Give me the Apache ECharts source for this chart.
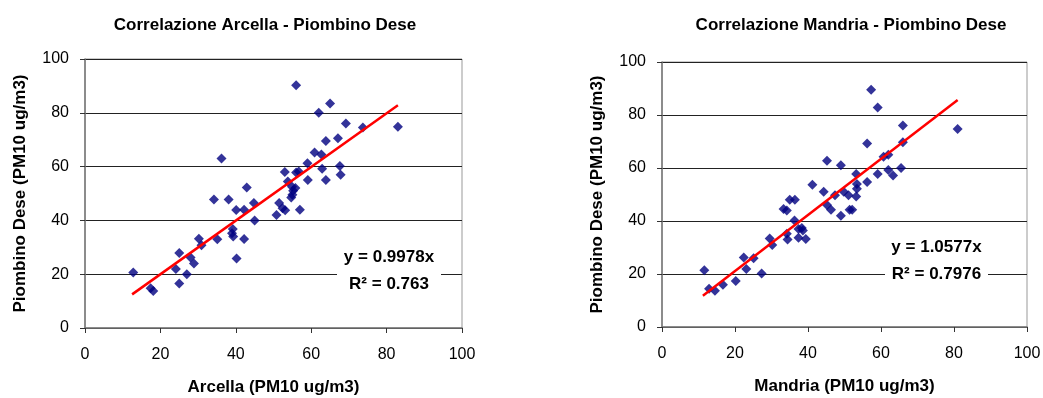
<!DOCTYPE html>
<html>
<head>
<meta charset="utf-8">
<script src="https://cdn.jsdelivr.net/npm/echarts@6/dist/echarts.min.js"></script>
<style>
html,body{margin:0;padding:0;background:#fff;}
#c{width:1043px;height:398px;}
</style>
</head>
<body>
<div id="c"></div>
<script>
// Left chart: Arcella (x) vs Piombino Dese (y)
const arcellaX = [12.8,17.4,18.1,24.1,25.0,25.0,27.0,28.0,28.9,30.2,30.9,34.2,35.1,36.2,38.1,39.2,39.0,39.3,40.1,40.2,42.2,42.2,42.9,44.8,45.0,50.8,51.5,52.4,53.1,53.0,53.8,54.9,55.2,55.0,54.7,55.8,56.0,56.7,56.0,57.0,59.0,59.1,60.9,62.7,62.0,62.9,63.9,63.9,65.0,67.1,67.6,67.8,69.2,73.7,83.0];
const arcellaPD = [20.6,14.8,13.8,21.9,27.9,16.5,20.0,26.2,24.0,33.2,30.8,47.8,33.0,63.0,47.8,36.8,35.2,34.0,43.9,25.8,44.0,33.1,52.2,46.5,40.0,42.0,46.5,44.5,43.8,58.0,54.5,52.5,51.0,49.5,48.5,52.0,57.8,58.2,90.2,44.0,61.2,55.0,65.2,64.5,80.0,59.2,55.0,69.5,83.5,70.5,60.2,57.0,76.0,74.5,74.8];
// Right chart: Mandria (x) vs Piombino Dese (y)
const mandriaX = [11.6,12.9,14.5,16.7,20.2,22.4,23.1,25.1,27.3,29.5,30.2,33.3,34.2,35.0,36.4,34.2,34.4,36.3,37.4,38.3,38.6,37.4,39.4,41.2,44.3,45.2,45.2,46.3,47.4,49.0,49.0,49.8,51.1,51.4,52.1,53.2,53.4,53.4,53.2,56.2,56.2,57.3,59.1,59.1,60.7,62.0,62.0,63.3,65.5,66.0,66.0,81.0];
const mandriaPD = [21.4,14.4,13.7,15.9,17.4,26.2,21.9,25.9,20.2,33.4,30.9,44.5,44.0,48.0,48.0,35.2,33.0,40.2,37.0,37.4,36.4,33.7,33.2,53.7,51.0,62.7,46.0,44.2,49.7,61.0,42.0,51.0,49.7,44.2,44.2,57.7,54.0,52.2,49.2,69.2,54.7,89.5,82.8,57.7,64.2,65.0,59.2,57.2,60.0,69.7,76.0,74.7];
// Trend line end points
const trendArcellaX = [12.5, 83.0];
const trendArcellaY = [12.5, 82.8];
const trendMandriaX = [11.2, 81.0];
const trendMandriaY = [11.8, 85.7];
// Ticks
const tickMin = 0, tickMax = 100, tickStep = 20;
const titles = ['Correlazione Arcella - Piombino Dese', 'Correlazione Mandria - Piombino Dese'];
const xNames = ['Arcella (PM10 ug/m3)', 'Mandria (PM10 ug/m3)'];
const yName = 'Piombino Dese (PM10 ug/m3)';
const eqTexts = [['y = 0.9978x', 'R\u00B2 = 0.763'], ['y = 1.0577x', 'R\u00B2 = 0.7976']];

const zip = (a, b) => a.map((v, i) => [v, b[i]]);
const sans = '"Liberation Sans", Arial, sans-serif';

const grids = [
  {left: 85, top: 59, width: 377, height: 269},
  {left: 662, top: 62, width: 365, height: 265}
];

function xAxis(i) {
  return {
    gridIndex: i, type: 'value', min: tickMin, max: tickMax, interval: tickStep,
    name: xNames[i], nameLocation: 'middle', nameGap: 51,
    nameTextStyle: {fontFamily: sans, fontWeight: 'bold', fontSize: 17, color: '#000'},
    axisLine: {show: true, lineStyle: {color: '#777', width: 1.5}},
    axisTick: {show: true, inside: false, length: 5, lineStyle: {color: '#333'}},
    axisLabel: {fontFamily: sans, fontSize: 16, color: '#000', margin: 19},
    splitLine: {show: false}
  };
}
function yAxis(i) {
  return {
    gridIndex: i, type: 'value', min: tickMin, max: tickMax, interval: tickStep,
    name: yName, nameLocation: 'middle', nameGap: 56,
    nameTextStyle: {fontFamily: sans, fontWeight: 'bold', fontSize: 17, color: '#000'},
    axisLine: {show: true, lineStyle: {color: '#777', width: 1.5}},
    axisTick: {show: true, inside: false, length: 5, lineStyle: {color: '#333'}},
    axisLabel: {fontFamily: sans, fontSize: 16, color: '#000', margin: 16},
    splitLine: {show: true, lineStyle: {color: '#222', width: 1}}
  };
}

const eqPos = [[389, 257, 284, 337, 441], [937, 247, 274, 885, 988]];
const graphics = [];
eqTexts.forEach((t, i) => {
  const p = eqPos[i];
  graphics.push({
    type: 'rect', z: 100,
    shape: {x: p[3], y: p[1] - 10, width: p[4] - p[3], height: p[2] - p[1] + 22},
    style: {fill: '#fff'}
  });
  graphics.push({
    type: 'text', z: 101, x: (p[3] + p[4]) / 2, y: p[1],
    style: {text: t[0], fill: '#000', font: 'bold 17px ' + sans, textAlign: 'center', textVerticalAlign: 'middle'}
  });
  graphics.push({
    type: 'text', z: 101, x: (p[3] + p[4]) / 2, y: p[2],
    style: {text: t[1], fill: '#000', font: 'bold 17px ' + sans, textAlign: 'center', textVerticalAlign: 'middle'}
  });
});

const chart = echarts.init(document.getElementById('c'), null, {renderer: 'canvas'});
chart.setOption({
  backgroundColor: '#fff',
  animation: false,
  title: [
    {text: titles[0], left: 260, top: 12, textAlign: 'center', textStyle: {fontFamily: sans, fontWeight: 'bold', fontSize: 17, color: '#000'}},
    {text: titles[1], left: 846, top: 12, textAlign: 'center', textStyle: {fontFamily: sans, fontWeight: 'bold', fontSize: 17, color: '#000'}}
  ],
  grid: grids.map(g => Object.assign({show: true, borderColor: '#999', borderWidth: 1, backgroundColor: '#fff', containLabel: false, outerBoundsMode: 'none'}, g)),
  xAxis: [xAxis(0), xAxis(1)],
  yAxis: [yAxis(0), yAxis(1)],
  graphic: graphics,
  series: [
    {type: 'scatter', xAxisIndex: 0, yAxisIndex: 0, symbol: 'diamond', symbolSize: 10,
     itemStyle: {color: '#000080'}, data: zip(arcellaX, arcellaPD), z: 3},
    {type: 'line', xAxisIndex: 0, yAxisIndex: 0, symbol: 'none', lineStyle: {color: '#ff0000', width: 2.5},
     data: zip(trendArcellaX, trendArcellaY), z: 4},
    {type: 'scatter', xAxisIndex: 1, yAxisIndex: 1, symbol: 'diamond', symbolSize: 10,
     itemStyle: {color: '#000080'}, data: zip(mandriaX, mandriaPD), z: 3},
    {type: 'line', xAxisIndex: 1, yAxisIndex: 1, symbol: 'none', lineStyle: {color: '#ff0000', width: 2.5},
     data: zip(trendMandriaX, trendMandriaY), z: 4}
  ]
});
</script>
</body>
</html>
